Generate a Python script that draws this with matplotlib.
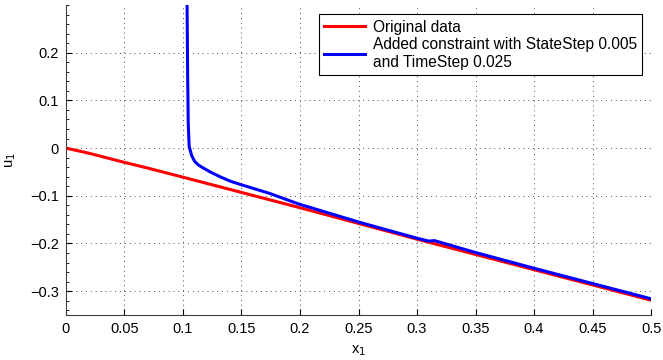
import matplotlib
matplotlib.use("Agg")
import matplotlib.pyplot as plt
from matplotlib.ticker import MultipleLocator

plt.rcParams["font.family"] = ["Liberation Sans", "DejaVu Sans"]

# original data (red)
orig_x = [0.0, 0.02, 0.05, 0.07, 0.1, 0.15, 0.2, 0.25, 0.3, 0.35, 0.4, 0.45, 0.5]
orig_u = [0.0, -0.011, -0.030, -0.042, -0.061, -0.093, -0.125, -0.158, -0.191,
          -0.223, -0.255, -0.287, -0.319]

# added constraint (blue)
cons_x = [0.1035, 0.104, 0.1045, 0.1053, 0.1075, 0.110, 0.1135, 0.1175, 0.124,
          0.1316, 0.14, 0.15, 0.162, 0.174, 0.1986, 0.25, 0.3, 0.31, 0.315,
          0.35, 0.4, 0.45, 0.5]
cons_u = [0.30, 0.15, 0.05, 0.003, -0.016, -0.028, -0.036, -0.042, -0.051,
          -0.060, -0.069, -0.077, -0.086, -0.095, -0.117, -0.155, -0.189,
          -0.195, -0.194, -0.219, -0.252, -0.284, -0.316]

labels = ["Original data", "Added constraint with StateStep 0.005\nand TimeStep 0.025"]

fig = plt.figure(figsize=(6.63, 3.6), dpi=100)
ax = fig.add_axes([0.0995, 0.125, 0.8825, 0.861])

ax.plot(orig_x, orig_u, color="red", lw=2.2, label=labels[0])
ax.plot(cons_x, cons_u, color="blue", lw=2.2, label=labels[1])

ax.set_xlim(0, 0.5)
ax.set_ylim(-0.35, 0.3)
ax.set_xticks([0, 0.05, 0.1, 0.15, 0.2, 0.25, 0.3, 0.35, 0.4, 0.45, 0.5])
ax.set_xticklabels(["0", "0.05", "0.1", "0.15", "0.2", "0.25", "0.3", "0.35", "0.4", "0.45", "0.5"])
ax.set_yticks([-0.3, -0.2, -0.1, 0, 0.1, 0.2])
ax.set_yticklabels(["\u22120.3", "\u22120.2", "\u22120.1", "0", "0.1", "0.2"])
ax.yaxis.set_minor_locator(MultipleLocator(0.02))
ax.tick_params(direction="in", length=4, width=0.8, labelsize=10.5, pad=5)
ax.tick_params(which="minor", direction="in", length=2, width=0.6)
ax.tick_params(axis="x", which="minor", bottom=False)

ax.grid(True, linestyle=(0, (1, 4)), color="0.3", linewidth=0.7)
for side in ["top", "right"]:
    ax.spines[side].set_visible(False)
for side in ["left", "bottom"]:
    ax.spines[side].set_linewidth(0.8)
    ax.spines[side].set_color("0.25")

ax.set_xlabel("x$_1$", fontsize=10.5, labelpad=5)
ax.set_ylabel("u$_1$", fontsize=10.5, labelpad=9)

leg = ax.legend(loc="upper right", bbox_to_anchor=(0.998, 0.995), fontsize=11.2,
                fancybox=False, framealpha=1, edgecolor="black",
                handlelength=2.6, borderpad=0.35, labelspacing=0.15, handletextpad=0.5)
leg.get_frame().set_linewidth(0.8)

fig.savefig("out.png", dpi=100)
